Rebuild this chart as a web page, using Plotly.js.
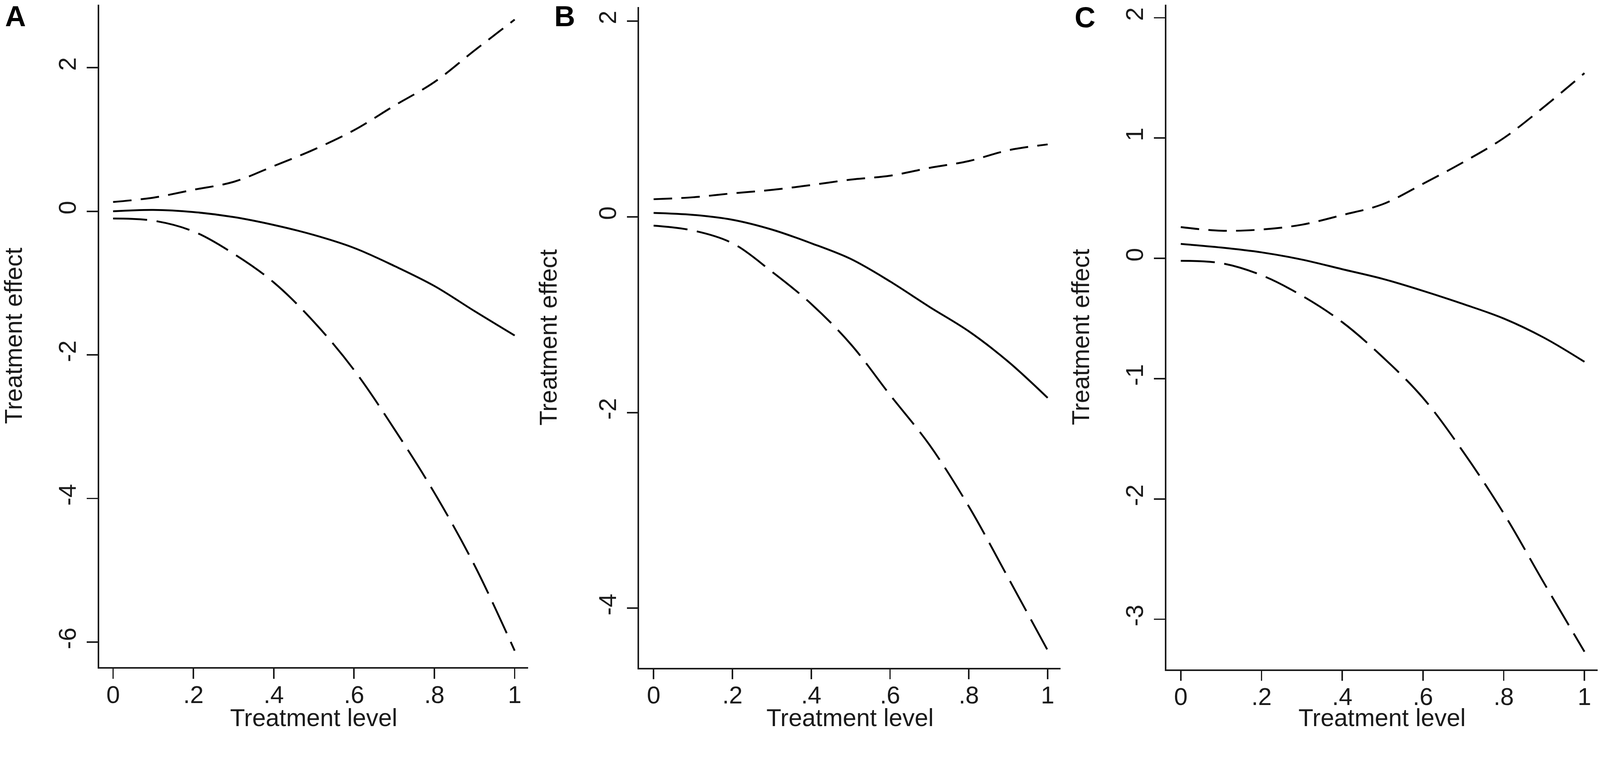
<!DOCTYPE html>
<html>
<head>
<meta charset="utf-8">
<script src="https://cdn.plot.ly/plotly-3.0.1.min.js"></script>
<style>
  html, body { margin: 0; padding: 0; background: white; overflow: hidden; }
</style>
</head>
<body>
<div id="chart"></div>
<script>
// Treatment level grid shared by the three panels
const treatmentLevel = [0, 0.1, 0.2, 0.3, 0.4, 0.5, 0.6, 0.7, 0.8, 0.9, 1.0];

// Panel A
const effectA = [0.00, 0.02, -0.01, -0.08, -0.19, -0.33, -0.51, -0.76, -1.04, -1.39, -1.73];
const upperA  = [0.13, 0.19, 0.30, 0.41, 0.63, 0.86, 1.13, 1.47, 1.80, 2.24, 2.67];
const lowerA  = [-0.10, -0.13, -0.28, -0.59, -0.99, -1.54, -2.21, -3.03, -3.92, -4.93, -6.12];

// Panel B
const effectB = [0.04, 0.02, -0.03, -0.13, -0.27, -0.43, -0.66, -0.92, -1.17, -1.48, -1.85];
const upperB  = [0.18, 0.20, 0.24, 0.275, 0.325, 0.38, 0.42, 0.50, 0.57, 0.68, 0.74];
const lowerB  = [-0.09, -0.14, -0.27, -0.56, -0.89, -1.30, -1.82, -2.33, -2.96, -3.69, -4.43];

// Panel C
const effectC = [0.12, 0.09, 0.05, -0.01, -0.09, -0.17, -0.27, -0.38, -0.50, -0.66, -0.86];
const upperC  = [0.26, 0.23, 0.24, 0.28, 0.36, 0.45, 0.62, 0.80, 1.00, 1.26, 1.54];
const lowerC  = [-0.02, -0.04, -0.14, -0.31, -0.53, -0.82, -1.16, -1.61, -2.12, -2.70, -3.27];

// Tick labels
const xTickVals = [0, 0.2, 0.4, 0.6, 0.8, 1];
const xTickText = ['0', '.2', '.4', '.6', '.8', '1'];
const yTicksA = [-6, -4, -2, 0, 2];
const yTicksB = [-4, -2, 0, 2];
const yTicksC = [-3, -2, -1, 0, 1, 2];

const panelLabels = ['A', 'B', 'C'];
const xTitle = 'Treatment level';
const yTitle = 'Treatment effect';

const INK = '#1a1a1a';
const FONT = 'Liberation Sans, Arial, sans-serif';

// the figure is laid out for 4328x1978; scale pixel sizes to the actual viewport
const W0 = 4328, H0 = 1978;
const S = Math.min(window.innerWidth / W0, window.innerHeight / H0) || 1;
const px = v => v * S;

// subplot domains, in paper fractions [A, B, C]
const xDomains = [[0.0619, 0.3302], [0.3994, 0.6629], [0.7289, 0.9986]];
const yDomains = [[0.0880, 0.9934], [0.0870, 0.9904], [0.0849, 0.9934]];
const xRanges = [[-0.035, 1.034], [-0.037, 1.033], [-0.036, 1.033]];
const yRanges = [[-6.35, 2.876], [-4.61, 2.144], [-3.418, 2.108]];
const yTickSets = [yTicksA, yTicksB, yTicksC];

function lineTrace(y, dash, axisIdx) {
    const suffix = axisIdx === 1 ? '' : String(axisIdx);
    return {
        x: treatmentLevel,
        y: y,
        type: 'scatter',
        mode: 'lines',
        line: { color: '#000', width: px(5), dash: dash, shape: 'spline', smoothing: 1 },
        xaxis: 'x' + suffix,
        yaxis: 'y' + suffix,
        hoverinfo: 'skip'
    };
}

function commonAxis() {
    return {
        tickmode: 'array',
        ticks: 'outside',
        tickwidth: px(4),
        tickcolor: INK,
        tickfont: { family: FONT, size: px(66), color: INK },
        showline: true,
        linecolor: INK,
        linewidth: px(4),
        showgrid: false,
        zeroline: false
    };
}

function xAxis(i) {
    return Object.assign(commonAxis(), {
        domain: xDomains[i],
        range: xRanges[i],
        anchor: i === 0 ? 'y' : 'y' + (i + 1),
        tickvals: xTickVals,
        ticktext: xTickText,
        ticklen: px(27),
        ticklabelstandoff: Math.round(px(-14))
    });
}

function yAxis(i) {
    const ticks = yTickSets[i];
    return Object.assign(commonAxis(), {
        domain: yDomains[i],
        range: yRanges[i],
        anchor: i === 0 ? 'x' : 'x' + (i + 1),
        tickvals: ticks,
        ticktext: ticks.map(String),
        tickangle: -90,
        ticklen: px(29),
        ticklabelstandoff: Math.round(px(3))
    });
}

const dashUpper = px(50) + 'px,' + px(25) + 'px';
const dashLower = px(92) + 'px,' + px(26) + 'px';

const traces = [
    lineTrace(upperA, dashUpper, 1),
    lineTrace(effectA, 'solid', 1),
    lineTrace(lowerA, dashLower, 1),
    lineTrace(upperB, dashUpper, 2),
    lineTrace(effectB, 'solid', 2),
    lineTrace(lowerB, dashLower, 2),
    lineTrace(upperC, dashUpper, 3),
    lineTrace(effectC, 'solid', 3),
    lineTrace(lowerC, dashLower, 3)
];

const annotations = [];
const labelPos = [[0.0097, 0.978], [0.353, 0.978], [0.678, 0.976]];
const yTitleX = [36 / W0, 1482 / W0, 2922 / W0];

panelLabels.forEach((t, i) => {
    annotations.push({
        text: '<b>' + t + '</b>',
        xref: 'paper', yref: 'paper',
        x: labelPos[i][0], y: labelPos[i][1],
        xanchor: 'center', yanchor: 'middle',
        showarrow: false,
        font: { family: FONT, size: px(78), color: '#000' }
    });
    // axis titles
    annotations.push({
        text: xTitle,
        xref: 'paper', yref: 'paper',
        x: (xDomains[i][0] + xDomains[i][1]) / 2, y: 1 - 1940 / H0,
        xanchor: 'center', yanchor: 'middle',
        showarrow: false,
        font: { family: FONT, size: px(66), color: INK }
    });
    annotations.push({
        text: yTitle,
        xref: 'paper', yref: 'paper',
        x: yTitleX[i], y: (yDomains[i][0] + yDomains[i][1]) / 2,
        xanchor: 'center', yanchor: 'middle',
        textangle: -90,
        showarrow: false,
        font: { family: FONT, size: px(66), color: INK }
    });
});

const layout = {
    width: W0 * S,
    height: H0 * S,
    margin: { l: 0, r: 0, t: 0, b: 0 },
    paper_bgcolor: 'white',
    plot_bgcolor: 'white',
    showlegend: false,
    xaxis: xAxis(0), yaxis: yAxis(0),
    xaxis2: xAxis(1), yaxis2: yAxis(1),
    xaxis3: xAxis(2), yaxis3: yAxis(2),
    annotations: annotations
};

Plotly.newPlot('chart', traces, layout, { staticPlot: true });
</script>
</body>
</html>
